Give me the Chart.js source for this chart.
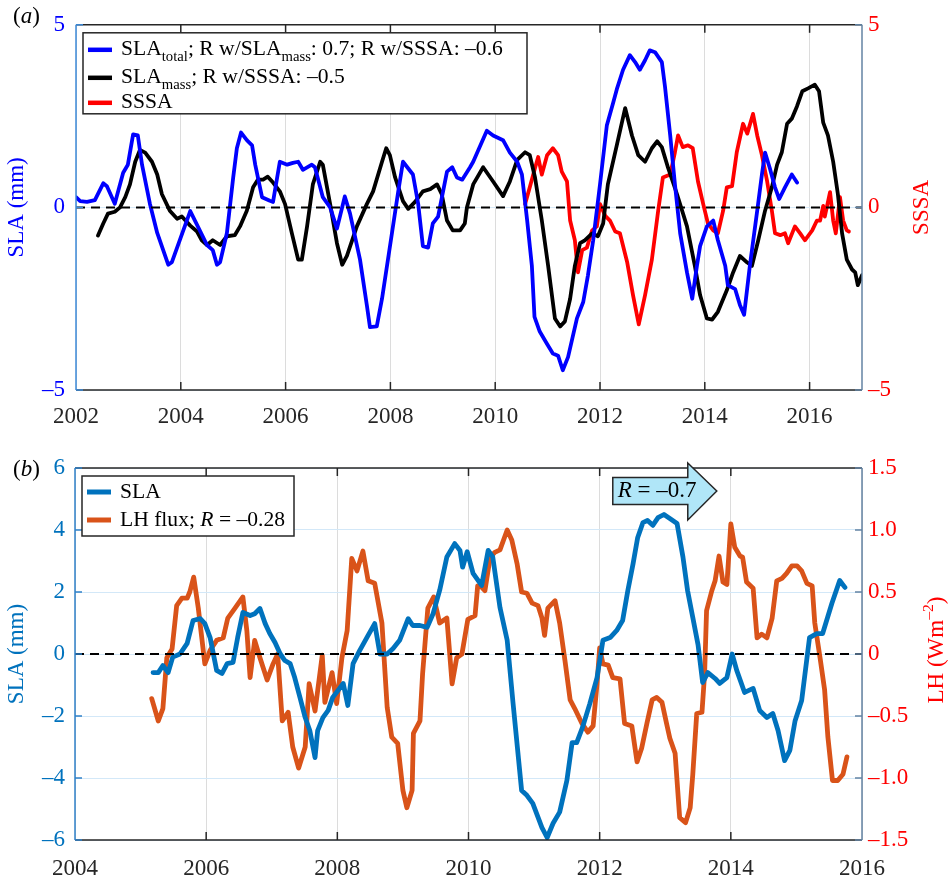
<!DOCTYPE html>
<html>
<head>
<meta charset="utf-8">
<script src="https://cdn.jsdelivr.net/npm/chart.js@4.4.1/dist/chart.umd.min.js"></script>
<style>
  html, body { margin: 0; padding: 0; background: #ffffff; }
  #wrap { position: relative; width: 950px; height: 881px; }
  .panel { position: absolute; left: 0; width: 950px; }
  canvas { display: block; }
</style>
</head>
<body>
<div id="wrap">
  <div class="panel" style="top:0;height:440px"><canvas id="chartA" width="950" height="440" style="width:950px;height:440px"></canvas></div>
  <div class="panel" style="top:440px;height:441px"><canvas id="chartB" width="950" height="441" style="width:950px;height:441px"></canvas></div>
</div>
<script>
// ---------- Panel (a): sea level anomaly (total & mass) and sea surface salinity anomaly ----------
const yearsTotal = [2002.00,2002.08,2002.21,2002.36,2002.52,2002.59,2002.74,2002.90,2002.99,2003.09,
  2003.18,2003.26,2003.41,2003.55,2003.76,2003.83,2004.18,2004.27,2004.50,2004.61,
  2004.69,2004.75,2004.88,2005.00,2005.07,2005.15,2005.26,2005.36,2005.42,2005.55,
  2005.70,2005.76,2005.89,2006.03,2006.14,2006.24,2006.33,2006.50,2006.56,2006.71,
  2006.85,2006.98,2007.13,2007.23,2007.42,2007.55,2007.61,2007.74,2007.84,2008.03,
  2008.15,2008.24,2008.43,2008.53,2008.62,2008.72,2008.81,2008.91,2009.08,2009.18,
  2009.27,2009.37,2009.52,2009.58,2009.84,2009.96,2010.15,2010.28,2010.42,2010.51,
  2010.61,2010.70,2010.75,2010.85,2010.99,2011.10,2011.20,2011.29,2011.39,2011.56,
  2011.68,2011.77,2011.87,2012.00,2012.13,2012.25,2012.32,2012.44,2012.57,2012.67,
  2012.76,2012.86,2012.95,2013.05,2013.18,2013.24,2013.34,2013.43,2013.53,2013.66,
  2013.76,2013.85,2013.91,2014.04,2014.16,2014.25,2014.39,2014.44,2014.58,2014.67,
  2014.75,2014.86,2015.00,2015.09,2015.15,2015.24,2015.34,2015.42,2015.53,2015.66,
  2015.76];
const slaTotal = [0.28,0.17,0.15,0.2,0.66,0.58,0.1,0.95,1.17,2.0,
  1.97,1.17,0.1,-0.7,-1.57,-1.5,-0.1,-0.36,-1.03,-1.17,
  -1.57,-1.5,-0.7,0.82,1.62,2.05,1.84,1.7,1.17,0.28,
  0.18,0.15,1.25,1.17,1.22,1.25,1.03,1.17,1.1,0.28,
  0,-0.58,0.3,-0.17,-1.43,-2.67,-3.28,-3.26,-2.5,-0.7,
  0.44,1.25,0.9,0.1,-1.06,-1.1,-0.44,-0.25,0.98,1.1,
  0.82,0.76,1.1,1.25,2.1,1.97,1.84,1.5,1.25,0.9,
  -0.36,-1.6,-3.0,-3.4,-3.74,-4.0,-4.06,-4.46,-4.1,-3.04,
  -2.59,-1.86,-0.9,0.63,2.24,2.86,3.23,3.77,4.17,3.98,
  3.77,4.03,4.3,4.25,3.98,3.31,1.97,0.63,-0.71,-1.78,
  -2.5,-1.6,-1.06,-0.52,-0.36,-0.9,-1.6,-2.13,-2.24,-2.67,
  -2.94,-1.6,-0.09,0.9,1.5,1.08,0.55,0.23,0.55,0.9,
  0.68];

const yearsMass = [2002.42,2002.52,2002.61,2002.74,2002.84,2002.94,2003.03,2003.13,2003.22,2003.32,
  2003.45,2003.55,2003.64,2003.79,2003.93,2004.02,2004.18,2004.31,2004.40,2004.50,
  2004.61,2004.75,2004.88,2005.03,2005.13,2005.26,2005.38,2005.47,2005.57,2005.66,
  2005.76,2005.89,2005.99,2006.12,2006.24,2006.31,2006.41,2006.52,2006.66,2006.71,
  2006.85,2006.98,2007.08,2007.17,2007.36,2007.55,2007.67,2007.84,2007.92,2007.99,
  2008.09,2008.24,2008.34,2008.47,2008.62,2008.76,2008.89,2008.98,2009.08,2009.19,
  2009.33,2009.42,2009.46,2009.58,2009.77,2009.96,2010.15,2010.28,2010.42,2010.57,
  2010.66,2010.76,2010.89,2011.01,2011.14,2011.24,2011.33,2011.43,2011.52,2011.62,
  2011.71,2011.85,2011.96,2012.06,2012.15,2012.32,2012.48,2012.61,2012.73,2012.86,
  2012.99,2013.09,2013.18,2013.30,2013.47,2013.66,2013.81,2013.91,2014.04,2014.14,
  2014.25,2014.42,2014.54,2014.67,2014.81,2014.90,2015.02,2015.15,2015.28,2015.38,
  2015.47,2015.57,2015.66,2015.76,2015.86,2015.97,2016.10,2016.18,2016.26,2016.35,
  2016.45,2016.54,2016.62,2016.71,2016.81,2016.87,2016.92,2017.00];
const slaMass = [-0.77,-0.44,-0.17,-0.12,0,0.28,0.63,1.25,1.57,1.5,
  1.25,0.9,0.36,-0.09,-0.31,-0.25,-0.5,-0.66,-0.9,-1.03,
  -0.9,-1.03,-0.79,-0.76,-0.52,-0.09,0.55,0.76,0.76,0.84,
  0.68,0.44,0.09,-0.71,-1.43,-1.43,-0.52,0.63,1.25,1.17,
  0.09,-0.98,-1.57,-1.33,-0.52,0.09,0.44,1.25,1.62,1.43,
  0.82,0.17,-0.04,0.15,0.44,0.5,0.63,0.36,-0.36,-0.63,
  -0.63,-0.44,0,0.63,1.1,0.71,0.31,0.71,1.3,1.51,
  1.43,0.82,-0.36,-1.6,-3.04,-3.26,-3.12,-2.5,-1.6,-0.98,
  -0.9,-0.71,-0.79,-0.44,0.63,1.7,2.72,1.97,1.43,1.25,
  1.62,1.81,1.65,1.08,0.36,-0.52,-1.6,-2.4,-3.04,-3.07,
  -2.86,-2.27,-1.78,-1.33,-1.51,-1.6,-0.9,-0.09,0.55,1.17,
  1.51,2.29,2.43,2.77,3.18,3.26,3.36,3.18,2.32,1.97,
  1.25,0.36,-0.71,-1.43,-1.7,-1.78,-2.13,-1.86];

const yearsSssa = [2010.57,2010.66,2010.76,2010.82,2010.89,2010.99,2011.10,2011.20,2011.27,2011.37,
  2011.43,2011.52,2011.58,2011.66,2011.75,2011.85,2011.94,2012.00,2012.10,2012.19,
  2012.29,2012.38,2012.52,2012.63,2012.74,2012.86,2012.99,2013.11,2013.20,2013.34,
  2013.43,2013.49,2013.58,2013.68,2013.77,2013.87,2013.97,2014.06,2014.16,2014.25,
  2014.35,2014.42,2014.52,2014.61,2014.73,2014.81,2014.92,2015.00,2015.09,2015.19,
  2015.28,2015.34,2015.44,2015.53,2015.59,2015.72,2015.82,2015.91,2016.05,2016.14,
  2016.20,2016.26,2016.29,2016.39,2016.45,2016.50,2016.58,2016.64,2016.71,2016.75];
const sssa = [0.09,0.55,1.08,1.38,0.9,1.43,1.62,1.43,0.98,0.71,
  -0.36,-0.9,-1.78,-1.17,-1.1,-0.63,-0.52,0.09,-0.23,-0.36,
  -0.66,-0.71,-1.51,-2.4,-3.2,-2.4,-1.43,-0.09,0.82,0.9,
  1.51,1.97,1.65,1.7,1.62,0.71,0.09,-0.44,-0.63,-0.71,
  -0.09,0.55,0.58,1.51,2.29,2.02,2.56,1.97,1.43,0.71,
  -0.09,-0.71,-0.76,-0.71,-0.98,-0.52,-0.71,-0.9,-0.63,-0.36,
  -0.36,0.04,-0.25,0.42,-0.36,-0.71,0.28,-0.36,-0.63,-0.66];

const xTicksA = [2002, 2004, 2006, 2008, 2010, 2012, 2014, 2016];
const yTicksA = [-5, 0, 5];

// ---------- Panel (b): sea level anomaly and latent heat flux ----------
const yearsSlaB = [2005.19,2005.27,2005.34,2005.42,2005.49,2005.60,2005.71,2005.80,2005.91,2005.98,
  2006.06,2006.16,2006.24,2006.32,2006.41,2006.48,2006.56,2006.67,2006.74,2006.82,
  2006.90,2006.97,2007.05,2007.13,2007.20,2007.28,2007.35,2007.43,2007.51,2007.58,
  2007.66,2007.70,2007.78,2007.86,2007.93,2008.01,2008.09,2008.16,2008.24,2008.34,
  2008.45,2008.57,2008.65,2008.76,2008.85,2008.95,2009.08,2009.15,2009.26,2009.37,
  2009.46,2009.56,2009.67,2009.79,2009.87,2009.91,2009.98,2010.07,2010.20,2010.30,
  2010.37,2010.48,2010.59,2010.68,2010.81,2010.89,2010.98,2011.12,2011.20,2011.29,
  2011.39,2011.50,2011.58,2011.65,2011.74,2011.85,2011.96,2012.05,2012.16,2012.26,
  2012.35,2012.43,2012.51,2012.58,2012.66,2012.73,2012.81,2012.89,2012.98,2013.07,
  2013.18,2013.27,2013.34,2013.42,2013.50,2013.57,2013.65,2013.76,2013.83,2013.94,
  2014.02,2014.09,2014.21,2014.34,2014.44,2014.55,2014.64,2014.72,2014.82,2014.90,
  2014.98,2015.08,2015.20,2015.31,2015.40,2015.54,2015.66,2015.74];
const slaB = [-0.6,-0.6,-0.37,-0.6,-0.1,0,0.34,1.08,1.14,0.98,
  0.53,-0.53,-0.63,-0.31,-0.27,0.53,1.34,1.24,1.3,1.47,
  0.98,0.66,0.37,0,-0.21,-0.31,-0.76,-1.4,-2.05,-2.47,
  -3.34,-2.47,-2.05,-1.82,-1.4,-1.18,-0.95,-1.66,-0.31,0.11,
  0.53,0.98,0,0,0.18,0.44,1.14,0.92,0.92,0.86,
  1.3,2.05,3.13,3.56,3.34,2.8,3.3,2.6,2.21,3.34,
  3.13,1.5,0.44,-1.6,-4.4,-4.56,-4.82,-5.6,-5.92,-5.46,
  -5.1,-4.08,-2.86,-2.86,-2.36,-1.6,-0.76,0.44,0.53,0.76,
  1.08,2.05,2.92,3.76,4.24,4.31,4.15,4.4,4.5,4.37,
  4.21,3.13,2.05,1.18,0.3,-0.92,-0.6,-0.79,-0.95,-0.76,
  0,-0.53,-1.24,-1.11,-1.82,-2.05,-1.92,-2.47,-3.44,-3.11,
  -2.15,-1.5,0.53,0.66,0.66,1.63,2.37,2.15];

const yearsLh = [2005.17,2005.27,2005.34,2005.40,2005.48,2005.55,2005.63,2005.71,2005.75,2005.81,
  2005.88,2005.98,2006.06,2006.16,2006.26,2006.33,2006.44,2006.56,2006.62,2006.67,
  2006.74,2006.82,2006.93,2007.02,2007.09,2007.16,2007.25,2007.32,2007.41,2007.51,
  2007.57,2007.66,2007.77,2007.81,2007.92,2007.99,2008.07,2008.15,2008.22,2008.30,
  2008.39,2008.47,2008.57,2008.68,2008.76,2008.83,2008.92,2009.00,2009.06,2009.14,
  2009.16,2009.26,2009.30,2009.38,2009.47,2009.56,2009.67,2009.75,2009.82,2009.90,
  2009.99,2010.10,2010.14,2010.20,2010.25,2010.33,2010.40,2010.48,2010.59,2010.66,
  2010.74,2010.81,2010.89,2010.97,2011.06,2011.12,2011.16,2011.21,2011.32,2011.39,
  2011.47,2011.55,2011.62,2011.73,2011.82,2011.90,2011.96,2012.00,2012.05,2012.13,
  2012.20,2012.31,2012.38,2012.49,2012.57,2012.64,2012.72,2012.80,2012.87,2012.95,
  2013.02,2013.07,2013.15,2013.22,2013.31,2013.38,2013.42,2013.48,2013.56,2013.60,
  2013.63,2013.71,2013.76,2013.82,2013.88,2013.94,2014.00,2014.06,2014.14,2014.18,
  2014.24,2014.34,2014.40,2014.47,2014.55,2014.63,2014.70,2014.78,2014.85,2014.93,
  2015.01,2015.08,2015.16,2015.24,2015.28,2015.36,2015.43,2015.48,2015.55,2015.63,
  2015.71,2015.77];
const lhFlux = [-0.36,-0.54,-0.44,-0.03,0.04,0.39,0.45,0.45,0.5,0.62,
  0.37,-0.08,0.03,0.11,0.13,0.29,0.37,0.46,0.19,-0.19,
  0.11,-0.03,-0.21,-0.08,0,-0.54,-0.47,-0.75,-0.92,-0.75,
  -0.24,-0.46,-0.01,-0.39,-0.15,-0.4,-0.03,0.19,0.77,0.67,
  0.83,0.59,0.57,0.25,-0.43,-0.67,-0.72,-1.1,-1.24,-1.1,
  -0.64,-0.54,-0.16,0.37,0.46,0.25,0.29,-0.24,-0.03,0,
  0.28,0.31,0.55,0.54,0.51,0.78,0.82,0.84,1.0,0.92,
  0.73,0.5,0.49,0.41,0.39,0.29,0.15,0.37,0.43,0.25,
  -0.05,-0.37,-0.44,-0.56,-0.63,-0.58,-0.24,0.05,-0.08,-0.09,
  -0.19,-0.2,-0.56,-0.58,-0.87,-0.76,-0.56,-0.37,-0.35,-0.39,
  -0.56,-0.68,-0.8,-1.32,-1.36,-1.24,-0.97,-0.48,-0.47,-0.16,
  0.35,0.51,0.59,0.79,0.58,0.56,1.05,0.86,0.79,0.78,
  0.58,0.53,0.13,0.16,0.13,0.29,0.59,0.61,0.65,0.71,
  0.71,0.67,0.57,0.55,0.25,-0.03,-0.29,-0.67,-1.02,-1.02,
  -0.97,-0.83];

const xTicksB = [2004, 2006, 2008, 2010, 2012, 2014, 2016];
const yTicksBLeft = [-6, -4, -2, 0, 2, 4, 6];
const yTicksBRight = [-1.5, -1, -0.5, 0, 0.5, 1, 1.5];

// ---------- Text ----------
const legendA = [
  [{t: 'SLA'}, {t: 'total', sub: true}, {t: '; R w/SLA'}, {t: 'mass', sub: true}, {t: ': 0.7; R w/SSSA: –0.6'}],
  [{t: 'SLA'}, {t: 'mass', sub: true}, {t: '; R w/SSSA: –0.5'}],
  [{t: 'SSSA'}]
];
const legendB = [
  [{t: 'SLA'}],
  [{t: 'LH flux; '}, {t: 'R', it: true}, {t: ' = –0.28'}]
];
const noteB = [{t: 'R', it: true}, {t: ' = –0.7'}];
const labelA = [{t: '('}, {t: 'a', it: true}, {t: ')'}];
const labelB = [{t: '('}, {t: 'b', it: true}, {t: ')'}];
const titleSla = [{t: 'SLA (mm)'}];
const titleSssa = [{t: 'SSSA'}];
const titleLh = [{t: 'LH (Wm'}, {t: '–2', sup: true}, {t: ')'}];

// ---------- Helpers ----------
const FONT = '"Liberation Serif", "Times New Roman", Times, serif';
const INK = '#262626';
const TICK_SIZE = 23;
const TITLE_SIZE = 23;

function pairs(xs, ys) { return xs.map((x, i) => ({x: x, y: ys[i]})); }
function fmtInt(v) { return String(v).replace('-', '–'); }
function fmtOne(v) { return (v === 0 ? '0' : v.toFixed(1)).replace('-', '–'); }

function segFont(s, size) {
  const sz = (s.sub || s.sup) ? size * 0.68 : size;
  return (s.it ? 'italic ' : '') + sz.toFixed(1) + 'px ' + FONT;
}
function richWidth(ctx, segs, size) {
  let w = 0;
  for (const s of segs) { ctx.font = segFont(s, size); w += ctx.measureText(s.t).width; }
  return w;
}
function drawRich(ctx, segs, x, y, size, color, align) {
  const w = richWidth(ctx, segs, size);
  let cx = align === 'center' ? x - w / 2 : (align === 'right' ? x - w : x);
  ctx.fillStyle = color;
  ctx.textBaseline = 'middle';
  ctx.textAlign = 'left';
  for (const s of segs) {
    ctx.font = segFont(s, size);
    const dy = s.sub ? size * 0.32 : (s.sup ? -size * 0.36 : 0);
    ctx.fillText(s.t, cx, y + dy);
    cx += ctx.measureText(s.t).width;
  }
}
function drawVertical(ctx, segs, x, y, size, color) {
  ctx.save();
  ctx.translate(x, y);
  ctx.rotate(-Math.PI / 2);
  drawRich(ctx, segs, 0, 0, size, color, 'center');
  ctx.restore();
}
function line(ctx, x1, y1, x2, y2) {
  ctx.beginPath(); ctx.moveTo(x1, y1); ctx.lineTo(x2, y2); ctx.stroke();
}

// Axes frame, inward tick marks, zero line, legend and labels for one panel
function panelDecor(cfg) {
  return {
    id: 'decor' + cfg.name,
    afterDatasetsDraw(chart) {
      const ctx = chart.ctx, a = chart.chartArea, sx = chart.scales.x;
      const sl = chart.scales.yL, sr = chart.scales.yR;
      ctx.save();
      // dashed zero reference
      ctx.strokeStyle = '#000000';
      ctx.lineWidth = 2;
      ctx.setLineDash([9, 6]);
      const y0 = sl.getPixelForValue(0);
      line(ctx, a.left, y0, a.right, y0);
      ctx.setLineDash([]);
      // top and bottom box edges with inward x ticks
      ctx.strokeStyle = INK;
      ctx.lineWidth = 1.5;
      line(ctx, a.left, a.top, a.right, a.top);
      line(ctx, a.left, a.bottom, a.right, a.bottom);
      for (const v of cfg.xTicks) {
        const x = sx.getPixelForValue(v);
        if (x <= a.left + 1 || x >= a.right - 1) continue;
        line(ctx, x, a.bottom, x, a.bottom - 8);
        line(ctx, x, a.top, x, a.top + 8);
      }
      // left axis
      ctx.strokeStyle = cfg.leftAxisColor;
      line(ctx, a.left, a.top, a.left, a.bottom);
      for (const v of cfg.yTicksLeft) {
        const y = sl.getPixelForValue(v);
        line(ctx, a.left, y, a.left + 7, y);
      }
      // right axis
      ctx.strokeStyle = cfg.rightAxisColor;
      line(ctx, a.right, a.top, a.right, a.bottom);
      for (const v of cfg.yTicksRight) {
        const y = sr.getPixelForValue(v);
        line(ctx, a.right, y, a.right - 7, y);
      }
      ctx.restore();
    },
    afterDraw(chart) {
      const ctx = chart.ctx, a = chart.chartArea;
      ctx.save();
      // legend box
      const L = cfg.legend;
      const bx = a.left + 7, by = a.top + 8;
      ctx.fillStyle = '#ffffff';
      ctx.fillRect(bx, by, L.w, L.h);
      ctx.strokeStyle = INK;
      ctx.lineWidth = 1.5;
      ctx.strokeRect(bx, by, L.w, L.h);
      L.rows.forEach((segs, i) => {
        const ds = chart.data.datasets[i];
        const ry = by + L.rowY[i];
        ctx.strokeStyle = ds.borderColor;
        ctx.lineWidth = L.sampleWidth;
        ctx.lineCap = 'butt';
        line(ctx, bx + 5, ry, bx + 29, ry);
        drawRich(ctx, segs, bx + 38, ry, L.size, '#000000', 'left');
      });
      // panel tag
      drawRich(ctx, cfg.tag, 13, cfg.tagY, TITLE_SIZE, '#000000', 'left');
      // axis titles
      drawVertical(ctx, cfg.leftTitle, 17, (a.top + a.bottom) / 2, TITLE_SIZE, cfg.leftTitleColor);
      drawVertical(ctx, cfg.rightTitle, cfg.rightTitleX, (a.top + a.bottom) / 2 + cfg.rightTitleDy, TITLE_SIZE, cfg.rightTitleColor);
      if (cfg.note) cfg.note(chart, ctx);
      ctx.restore();
    }
  };
}

function axisX(min, max, ticks, height, pad) {
  return {
    type: 'linear', min: min, max: max,
    afterBuildTicks: s => { s.ticks = ticks.map(v => ({value: v})); },
    afterFit: s => { s.height = height; },
    grid: {color: '#dcdcdc', lineWidth: 1, drawTicks: false},
    border: {display: false},
    ticks: {padding: pad, color: INK, autoSkip: false, maxRotation: 0,
      font: {family: FONT, size: TICK_SIZE}, callback: v => String(v)}
  };
}
function axisY(pos, min, max, ticks, width, pad, color, fmt, gridColor) {
  return {
    type: 'linear', position: pos, min: min, max: max,
    afterBuildTicks: s => { s.ticks = ticks.map(v => ({value: v})); },
    afterFit: s => { s.width = width; },
    grid: gridColor ? {color: gridColor, lineWidth: 1, drawTicks: false} : {display: false, drawTicks: false},
    border: {display: false},
    ticks: {padding: pad, color: color, font: {family: FONT, size: TICK_SIZE}, callback: fmt}
  };
}

// ---------- Chart (a) ----------
new Chart(document.getElementById('chartA'), {
  type: 'line',
  data: {
    datasets: [
      {label: 'SLA total', data: pairs(yearsTotal, slaTotal), borderColor: '#0000ff', yAxisID: 'yL'},
      {label: 'SLA mass', data: pairs(yearsMass, slaMass), borderColor: '#000000', yAxisID: 'yL'},
      {label: 'SSSA', data: pairs(yearsSssa, sssa), borderColor: '#ff0000', yAxisID: 'yR'}
    ]
  },
  options: {
    responsive: false, animation: false, events: [],
    layout: {padding: {top: 17, left: 0, right: 0, bottom: 0}},
    elements: {point: {radius: 0}, line: {borderWidth: 3.8, tension: 0, borderJoinStyle: 'round', borderCapStyle: 'round'}},
    plugins: {legend: {display: false}, tooltip: {enabled: false}},
    scales: {
      x: axisX(2002, 2017, xTicksA, 50, 13),
      yL: axisY('left', -5, 5, yTicksA, 76, 11, '#0000ff', fmtInt, '#d8eaf8'),
      yR: axisY('right', -5, 5, yTicksA, 88, 6, '#ff0000', fmtInt, null)
    }
  },
  plugins: [panelDecor({
    name: 'A', xTicks: xTicksA, yTicksLeft: yTicksA, yTicksRight: yTicksA,
    leftAxisColor: '#3d8ad8', rightAxisColor: '#6383a3',
    legend: {rows: legendA, w: 444, h: 81, rowY: [17, 45, 70], size: 21.6, sampleWidth: 4.5},
    tag: labelA, tagY: 17,
    leftTitle: titleSla, leftTitleColor: '#0000ff',
    rightTitle: titleSssa, rightTitleColor: '#ff0000', rightTitleX: 922, rightTitleDy: 0
  })]
});

// ---------- Chart (b) ----------
new Chart(document.getElementById('chartB'), {
  type: 'line',
  data: {
    datasets: [
      {label: 'SLA', data: pairs(yearsSlaB, slaB), borderColor: '#0072bd', yAxisID: 'yL'},
      {label: 'LH flux', data: pairs(yearsLh, lhFlux), borderColor: '#d95319', yAxisID: 'yR'}
    ]
  },
  options: {
    responsive: false, animation: false, events: [],
    layout: {padding: {top: 28, left: 0, right: 0, bottom: 0}},
    elements: {point: {radius: 0}, line: {borderWidth: 4.8, tension: 0, borderJoinStyle: 'round', borderCapStyle: 'round'}},
    plugins: {legend: {display: false}, tooltip: {enabled: false}},
    scales: {
      x: axisX(2004, 2016, xTicksB, 41, 15),
      yL: axisY('left', -6, 6, yTicksBLeft, 75, 10, '#0072bd', fmtInt, '#d3e8f8'),
      yR: axisY('right', -1.5, 1.5, yTicksBRight, 88, 6, '#ff0000', fmtOne, null)
    }
  },
  plugins: [panelDecor({
    name: 'B', xTicks: xTicksB, yTicksLeft: yTicksBLeft, yTicksRight: yTicksBRight,
    leftAxisColor: '#2f80c8', rightAxisColor: '#6383a3',
    legend: {rows: legendB, w: 212, h: 60, rowY: [16, 44], size: 21.6, sampleWidth: 5},
    tag: labelB, tagY: 30,
    leftTitle: titleSla, leftTitleColor: '#0072bd',
    rightTitle: titleLh, rightTitleColor: '#ff0000', rightTitleX: 937, rightTitleDy: -4,
    note: (chart, ctx) => {
      // callout arrow anchored in data space (year, SLA mm)
      const ax = chart.scales.x.getPixelForValue(2012.2);
      const ay = chart.scales.yL.getPixelForValue(5.26);
      ctx.beginPath();
      ctx.moveTo(ax, ay - 13.5);
      ctx.lineTo(ax + 75, ay - 13.5);
      ctx.lineTo(ax + 75, ay - 28);
      ctx.lineTo(ax + 104, ay);
      ctx.lineTo(ax + 75, ay + 29);
      ctx.lineTo(ax + 75, ay + 13.5);
      ctx.lineTo(ax, ay + 13.5);
      ctx.closePath();
      ctx.fillStyle = '#b0e6f8';
      ctx.fill();
      ctx.strokeStyle = INK;
      ctx.lineWidth = 1.5;
      ctx.stroke();
      drawRich(ctx, noteB, ax + 5, ay, 23, '#000000', 'left');
    }
  })]
});
</script>
</body>
</html>
